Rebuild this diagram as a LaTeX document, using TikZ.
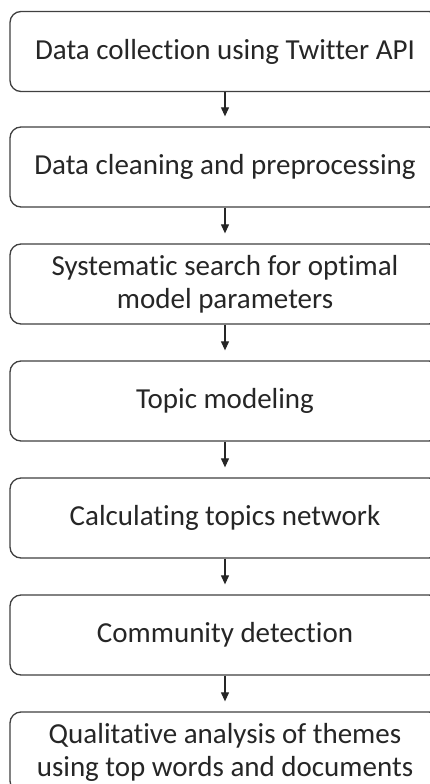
\documentclass[tikz,border=0pt]{standalone}
\usepackage{fontspec}
\setmainfont[Ligatures=NoCommon]{Carlito}
\usetikzlibrary{arrows.meta}
\begin{document}
\begin{tikzpicture}[x=1pt,y=-1pt,
  stepbox/.style={draw=black!75, line width=1.3pt, rounded corners=11pt, minimum width=430pt, minimum height=80pt, align=center, inner sep=0pt, font=\fontsize{29}{33}\selectfont, text=black!85},
  flow/.style={draw=black!85, line width=1.1pt, -{Triangle[length=9pt,width=8pt]}, shorten >=10pt}]
\useasboundingbox (0,0) rectangle (430,784);
\clip (0,0) rectangle (430,784);
\fill[white] (0,0) rectangle (430,784);
\node[stepbox] (b1) at (225,51.5) {Data collection using Twitter API};
\node[stepbox] (b2) at (225,167) {Data cleaning and preprocessing};
\node[stepbox] (b3) at (225,284) {Systematic search for optimal\\model parameters};
\node[stepbox] (b4) at (225,401) {Topic modeling};
\node[stepbox] (b5) at (225,518) {Calculating topics network};
\node[stepbox] (b6) at (225,635) {Community detection};
\node[stepbox] (b7) at (225,752) {Qualitative analysis of themes\\using top words and documents};
\foreach \a/\b in {b1/b2,b2/b3,b3/b4,b4/b5,b5/b6,b6/b7}
  \draw[flow] (\a.south) -- (\b.north);
\end{tikzpicture}
\end{document}
